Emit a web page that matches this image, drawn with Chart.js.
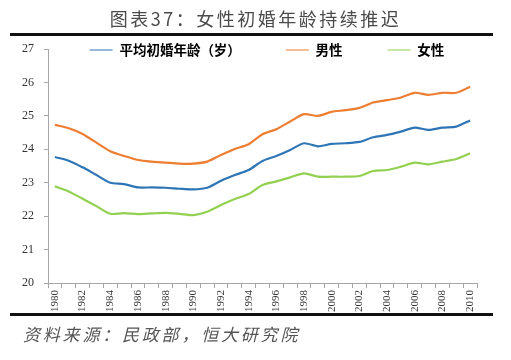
<!DOCTYPE html>
<html>
<head>
<meta charset="utf-8">
<script src="https://cdn.jsdelivr.net/npm/chart.js@4/dist/chart.umd.min.js"></script>
<style>
  html, body { margin: 0; padding: 0; background: #fff; }
  #wrap { position: relative; width: 511px; height: 360px; overflow: hidden; background: #fff; }
  #chart { position: absolute; left: 0; top: 0; }
  .title { position: absolute; left: 0; width: 511px; top: 6px; text-align: center;
    font-family: "Noto Sans CJK SC", sans-serif; font-size: 18px; letter-spacing: 2.5px; color: #4a4a4a; line-height: 24px; }
  .rule { position: absolute; left: 10px; width: 483px; height: 3px; background: #111; }
  .source { position: absolute; left: 23px; top: 322px; font-family: "Noto Sans CJK SC", sans-serif;
    font-size: 17px; font-style: italic; letter-spacing: 2.8px; color: #555; line-height: 24px; }
</style>
</head>
<body>
<div id="wrap">
  <canvas id="chart" width="511" height="360"></canvas>
  <div class="title">图表37：女性初婚年龄持续推迟</div>
  <div class="rule" style="top:33px"></div>
  <div class="rule" style="top:313px"></div>
  <div class="source">资料来源：民政部，恒大研究院</div>
</div>
<script>
const years = ['1980','1981','1982','1983','1984','1985','1986','1987','1988','1989','1990','1991','1992','1993','1994','1995','1996','1997','1998','1999','2000','2001','2002','2003','2004','2005','2006','2007','2008','2009','2010'];
const averageAge = [23.77,23.66,23.46,23.23,23.00,22.96,22.86,22.86,22.85,22.82,22.80,22.85,23.06,23.23,23.38,23.65,23.80,23.98,24.18,24.09,24.16,24.18,24.22,24.36,24.43,24.53,24.65,24.58,24.65,24.68,24.86];
const maleAge = [24.73,24.63,24.46,24.20,23.94,23.80,23.68,23.63,23.60,23.57,23.57,23.63,23.83,24.01,24.15,24.45,24.60,24.83,25.05,25.00,25.12,25.17,25.24,25.40,25.47,25.55,25.69,25.63,25.69,25.69,25.87];
const femaleAge = [22.89,22.74,22.52,22.30,22.07,22.09,22.06,22.08,22.10,22.07,22.03,22.13,22.33,22.51,22.66,22.93,23.04,23.16,23.28,23.18,23.18,23.18,23.20,23.35,23.38,23.48,23.60,23.55,23.63,23.71,23.88];
const seriesNames = ['平均初婚年龄（岁）','男性','女性'];
const yMin = 20, yMax = 27;

Chart.defaults.font.family = '"Liberation Serif", serif';
Chart.defaults.color = '#333';

// Keep the legend on one row and place it inside the plot area, level with the top tick
const legendInside = {
  id: 'legendInside',
  beforeLayout(chart) {
    const lg = chart.legend;
    if (lg && !lg._oneRow) {
      const origFit = lg.fit;
      lg.fit = function () { this.maxWidth = 2000; return origFit.call(this); };
      lg._oneRow = true;
    }
  },
  afterLayout(chart) {
    const lg = chart.legend;
    if (!lg) return;
    const pad = lg.options.labels.padding;
    const fs = lg.options.labels.font.size;
    lg.left = chart.chartArea.left - 31;
    lg.right = chart.chartArea.right + 40;
    lg.width = lg.right - lg.left;
    lg.top = chart.chartArea.top + 1 - pad - fs / 2;
    lg.bottom = lg.top + pad + fs + 10;
    lg.height = lg.bottom - lg.top;
  }
};

const axisGray = '#a6a6a6';

new Chart(document.getElementById('chart'), {
  type: 'line',
  data: {
    labels: years,
    datasets: [
      { label: seriesNames[0], data: averageAge, borderColor: '#2e75b6', backgroundColor: '#2e75b6' },
      { label: seriesNames[1], data: maleAge, borderColor: '#ed7d31', backgroundColor: '#ed7d31' },
      { label: seriesNames[2], data: femaleAge, borderColor: '#92d050', backgroundColor: '#92d050' }
    ]
  },
  options: {
    responsive: false,
    animation: false,
    devicePixelRatio: 1,
    elements: {
      line: { borderWidth: 2.2, tension: 0.25, fill: false },
      point: { radius: 0, hoverRadius: 0 }
    },
    layout: { padding: { left: 0, right: 34, top: 49, bottom: 47 } },
    plugins: {
      tooltip: { enabled: false },
      legend: {
        position: 'top',
        align: 'center',
        maxHeight: 0.01,
        labels: {
          usePointStyle: true,
          pointStyle: 'line',
          pointStyleWidth: 23,
          padding: 45,
          color: '#000',
          font: { family: '"Noto Sans CJK SC", sans-serif', size: 13.5, weight: 'bold' }
        }
      }
    },
    scales: {
      x: {
        type: 'category',
        offset: true,
        afterFit(scale) { scale.height = 30; },
        border: { display: true, color: axisGray, width: 1 },
        grid: { display: true, offset: true, drawOnChartArea: false, drawTicks: true, tickLength: 5, color: axisGray },
        ticks: {
          autoSkip: false,
          minRotation: 90,
          maxRotation: 90,
          padding: 2,
          color: '#333',
          font: { size: 11 },
          callback(value, index) { return index % 2 === 0 ? this.getLabelForValue(value) : ''; }
        }
      },
      y: {
        min: yMin,
        max: yMax,
        afterFit(scale) { scale.width = 48; },
        border: { display: true, color: axisGray, width: 1 },
        grid: { display: true, drawOnChartArea: false, drawTicks: true, tickLength: 4, color: axisGray },
        ticks: { stepSize: 1, padding: 10, color: '#333', font: { size: 12 } }
      }
    }
  },
  plugins: [legendInside]
});
</script>
</body>
</html>
